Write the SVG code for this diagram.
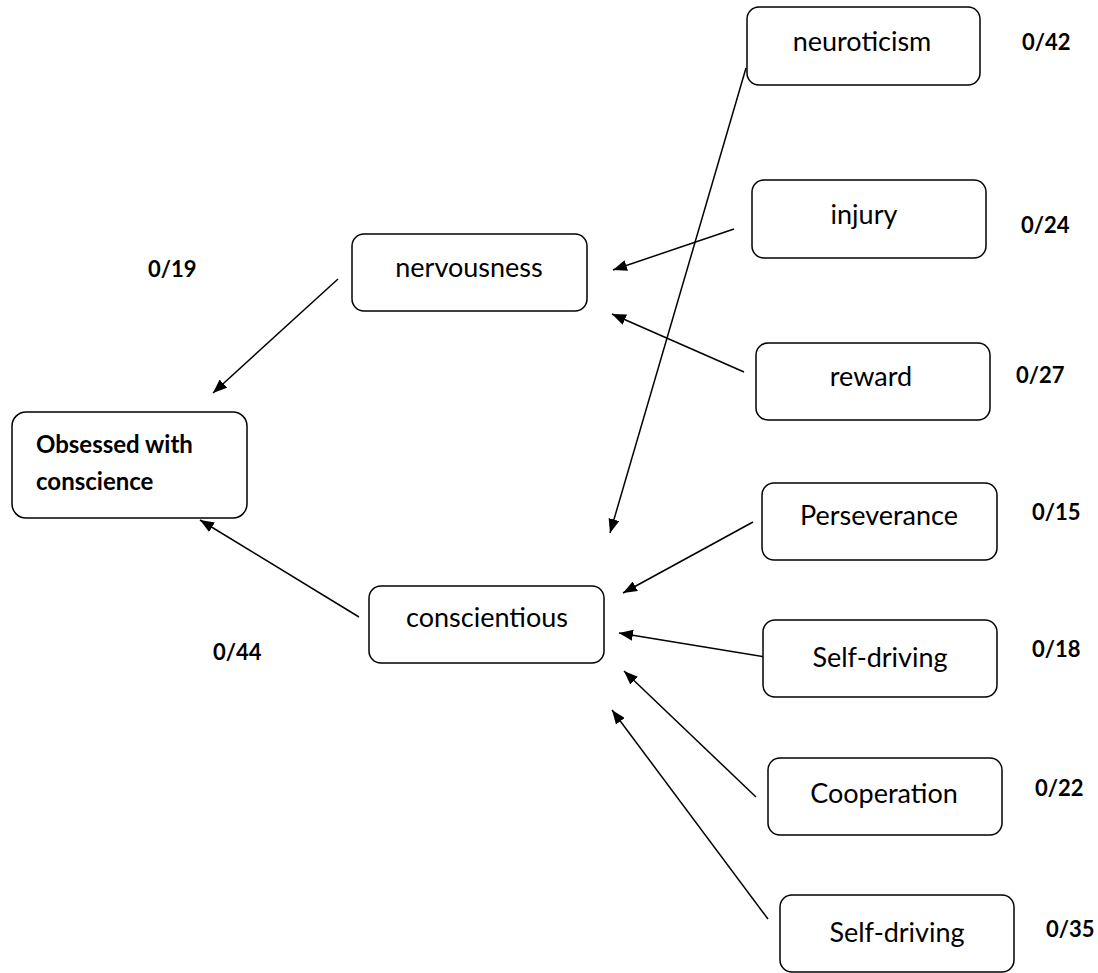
<svg xmlns="http://www.w3.org/2000/svg" width="1098" height="973" viewBox="0 0 1098 973">
<style>
.box{fill:#fff;stroke:#000;stroke-width:1.5}
.t{font-family:Lato,"Open Sans","Liberation Sans",sans-serif;font-size:27px;fill:#000;text-anchor:middle}
.b{font-family:Lato,"Open Sans","Liberation Sans",sans-serif;font-size:22px;font-weight:bold;fill:#000}
.ob{font-size:24px}
.c line{stroke:#000;stroke-width:1.5;marker-end:url(#ah)}
</style>
<defs>
<marker id="ah" viewBox="0 0 14 11" refX="14" refY="5.5" markerWidth="14" markerHeight="11" markerUnits="userSpaceOnUse" orient="auto">
<path d="M0,0 L14,5.5 L0,11 Z" fill="#000"/>
</marker>
</defs>
<rect width="1098" height="973" fill="#fff"/>
<g class="c" id="connectors">
<line x1="338" y1="279" x2="213" y2="393"/>
<line x1="359" y1="617" x2="200" y2="520"/>
<line x1="746" y1="68" x2="610" y2="533"/>
<line x1="734" y1="229" x2="613" y2="270"/>
<line x1="744" y1="372" x2="612" y2="314"/>
<line x1="753" y1="522" x2="623" y2="593"/>
<line x1="765" y1="657" x2="619" y2="633"/>
<line x1="756" y1="797" x2="624" y2="671"/>
<line x1="768" y1="919" x2="612" y2="710"/>
</g>
<g id="n-neuroticism"><rect class="box" x="747" y="7" width="233" height="78" rx="12"/><text class="t" x="862" y="51">neuroticism</text></g>
<g id="n-injury"><rect class="box" x="752" y="180" width="234" height="78" rx="12"/><text class="t" x="864" y="224">injury</text></g>
<g id="n-nervousness"><rect class="box" x="352" y="234" width="235" height="77" rx="12"/><text class="t" x="469" y="277">nervousness</text></g>
<g id="n-reward"><rect class="box" x="756" y="343" width="234" height="77" rx="12"/><text class="t" x="871" y="386">reward</text></g>
<g id="n-obsessed"><rect class="box" x="12" y="412" width="235" height="106" rx="14"/><text class="b ob" x="36" y="453">Obsessed with</text><text class="b ob" x="36" y="490">conscience</text></g>
<g id="n-perseverance"><rect class="box" x="762" y="483" width="235" height="77" rx="12"/><text class="t" x="879" y="525">Perseverance</text></g>
<g id="n-conscientious"><rect class="box" x="369" y="586" width="235" height="77" rx="12"/><text class="t" x="487" y="627">conscientious</text></g>
<g id="n-selfdriving1"><rect class="box" x="763" y="620" width="234" height="77" rx="12"/><text class="t" x="880" y="667">Self-driving</text></g>
<g id="n-cooperation"><rect class="box" x="768" y="758" width="234" height="77" rx="12"/><text class="t" x="884" y="803">Cooperation</text></g>
<g id="n-selfdriving2"><rect class="box" x="780" y="895" width="234" height="77" rx="12"/><text class="t" x="897" y="942">Self-driving</text></g>
<g id="labels">
<text class="b" x="1022" y="50">0/42</text>
<text class="b" x="1021" y="233">0/24</text>
<text class="b" x="1016" y="383">0/27</text>
<text class="b" x="148" y="277">0/19</text>
<text class="b" x="1032" y="520">0/15</text>
<text class="b" x="213" y="660">0/44</text>
<text class="b" x="1032" y="657">0/18</text>
<text class="b" x="1035" y="796">0/22</text>
<text class="b" x="1046" y="937">0/35</text>
</g>
</svg>
